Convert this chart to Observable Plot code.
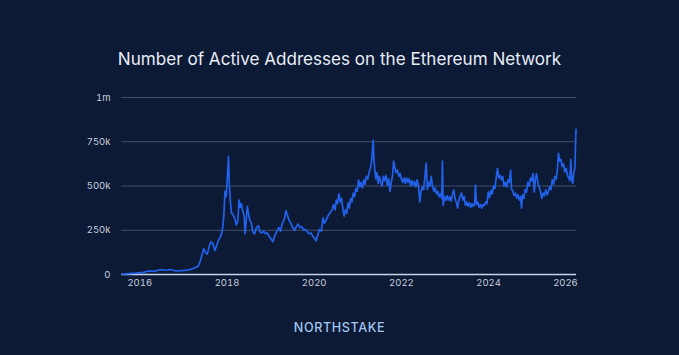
<!DOCTYPE html>
<html>
<head>
<meta charset="utf-8">
<script src="https://cdn.jsdelivr.net/npm/d3@7"></script>
<script src="https://cdn.jsdelivr.net/npm/@observablehq/plot@0.6"></script>
<style>
  html, body { margin: 0; padding: 0; background: #0c1a36; }
  body { width: 679px; height: 355px; overflow: hidden; position: relative; font-family: Inter, "Noto Sans", sans-serif; }
  #title { position: absolute; left: 0; width: 679px; top: 48px; text-align: center; color: #e9edf5; font-size: 17.1px; font-weight: 400; }
  #chart { position: absolute; left: 0; top: 85px; }
  #brand { position: absolute; left: 0; width: 679px; top: 320px; text-align: center; color: #a3c6ee; font-size: 12.6px; font-weight: 500; letter-spacing: 0.6px; }
</style>
</head>
<body>
<div id="title">Number of Active Addresses on the Ethereum Network</div>
<div id="chart"></div>
<div id="brand">NORTHSTAKE</div>
<script>
const dates = [
"2015-08-07","2015-10-01","2015-12-01","2016-02-01","2016-03-15","2016-05-01","2016-06-15","2016-08-01","2016-09-15","2016-11-01",
"2016-12-15","2017-02-01","2017-03-10","2017-04-10","2017-05-01","2017-05-20","2017-06-05","2017-06-20","2017-07-05","2017-07-20",
"2017-08-05","2017-08-20","2017-09-05","2017-09-20","2017-10-05","2017-10-25","2017-11-10","2017-11-25","2017-12-05","2017-12-15",
"2017-12-25","2018-01-05","2018-01-13","2018-01-20","2018-01-28","2018-02-08","2018-02-20","2018-03-05","2018-03-20","2018-04-01",
"2018-04-12","2018-04-22","2018-05-01","2018-05-12","2018-05-25","2018-06-01","2018-06-10","2018-06-20","2018-07-01","2018-07-12",
"2018-07-25","2018-08-05","2018-08-20","2018-09-05","2018-09-20","2018-10-05","2018-10-20","2018-11-05","2018-11-20","2018-12-05",
"2018-12-20","2019-01-05","2019-01-20","2019-02-05","2019-02-20","2019-03-10","2019-03-25","2019-04-10","2019-04-25","2019-05-10",
"2019-05-20","2019-06-05","2019-06-20","2019-07-05","2019-07-20","2019-08-05","2019-08-20","2019-09-05","2019-09-20","2019-10-05",
"2019-10-20","2019-11-05","2019-11-20","2019-12-05","2019-12-20","2020-01-05","2020-01-18","2020-02-01","2020-02-15","2020-03-01",
"2020-03-15","2020-03-28","2020-04-10","2020-04-25","2020-05-10","2020-05-25",
"2020-06-01","2020-06-12","2020-06-24","2020-07-05","2020-07-15","2020-07-26","2020-08-06","2020-08-17","2020-08-28","2020-09-08",
"2020-09-19","2020-09-30","2020-10-11","2020-10-22","2020-11-02","2020-11-13","2020-11-24","2020-12-05","2020-12-16","2020-12-27",
"2021-01-07","2021-01-18","2021-01-29","2021-02-09","2021-02-20","2021-03-03","2021-03-14","2021-03-25","2021-04-05","2021-04-16",
"2021-04-27","2021-05-04","2021-05-10","2021-05-15","2021-05-22","2021-06-01","2021-06-10","2021-06-20","2021-07-01","2021-07-12",
"2021-07-23","2021-08-03","2021-08-14","2021-08-25","2021-09-05","2021-09-16","2021-09-27","2021-10-08","2021-10-19","2021-10-28",
"2021-11-08","2021-11-18","2021-11-29","2021-12-10","2021-12-21","2022-01-01","2022-01-12","2022-01-23","2022-02-03","2022-02-14",
"2022-02-25","2022-03-08","2022-03-19","2022-03-30","2022-04-10","2022-04-21","2022-05-02","2022-05-13","2022-05-24","2022-06-04",
"2022-06-15","2022-06-26","2022-07-07","2022-07-18","2022-07-28","2022-08-06","2022-08-17","2022-08-28","2022-09-08","2022-09-19",
"2022-09-30","2022-10-11","2022-10-22","2022-11-02","2022-11-13","2022-11-24","2022-12-05","2022-12-11","2022-12-17","2022-12-28",
"2023-01-08","2023-01-19","2023-01-30","2023-02-10","2023-02-21","2023-03-04","2023-03-15","2023-03-26","2023-04-06","2023-04-17",
"2023-04-28","2023-05-09","2023-05-20","2023-05-31","2023-06-11","2023-06-22","2023-07-03","2023-07-14","2023-07-25","2023-08-05",
"2023-08-16","2023-08-27","2023-09-07","2023-09-14","2023-09-22","2023-10-03","2023-10-14","2023-10-25","2023-11-05","2023-11-16",
"2023-11-27","2023-12-08","2023-12-19","2023-12-30","2024-01-10","2024-01-21","2024-02-01","2024-02-12","2024-02-23","2024-03-05",
"2024-03-16","2024-03-27","2024-04-07","2024-04-18","2024-04-29","2024-05-10","2024-05-21","2024-06-01","2024-06-12","2024-06-23",
"2024-07-04","2024-07-12","2024-07-23","2024-08-03","2024-08-14","2024-08-25","2024-09-05","2024-09-16","2024-09-27","2024-10-03",
"2024-10-12","2024-10-23","2024-11-03","2024-11-14","2024-11-25","2024-12-06","2024-12-17","2024-12-28","2025-01-08","2025-01-18",
"2025-01-28","2025-02-06","2025-02-17","2025-02-28","2025-03-11","2025-03-22","2025-04-02","2025-04-13","2025-04-24","2025-05-05",
"2025-05-16","2025-05-27","2025-06-07","2025-06-18","2025-06-29","2025-07-10","2025-07-21","2025-08-01","2025-08-09","2025-08-18",
"2025-08-29","2025-09-09","2025-09-20","2025-10-01","2025-10-12","2025-10-23","2025-11-03","2025-11-12","2025-11-20","2025-11-28",
"2025-12-06","2025-12-15","2025-12-24","2026-01-03"
];
const activeAddresses = [
2000,5000,8000,12000,20000,18000,27000,24000,28000,20000,
22000,25000,30000,40000,45000,70000,110000,145000,125000,115000,
160000,185000,175000,135000,160000,200000,215000,260000,330000,470000,
440000,560000,667000,520000,420000,345000,340000,320000,280000,300000,
420000,380000,400000,360000,330000,230000,300000,385000,340000,305000,
290000,240000,230000,265000,275000,240000,235000,245000,230000,235000,
215000,200000,185000,220000,240000,265000,245000,290000,310000,360000,
340000,305000,290000,265000,250000,270000,285000,265000,270000,250000,
255000,240000,230000,235000,215000,205000,190000,225000,255000,245000,
320000,290000,305000,330000,345000,360000,
370000,395000,365000,420000,400000,455000,410000,430000,375000,330000,
365000,345000,405000,375000,430000,410000,460000,440000,485000,470000,
535000,495000,520000,490000,535000,510000,555000,540000,575000,600000,
640000,705000,760000,660000,600000,540000,575000,515000,555000,520000,
500000,555000,530000,560000,505000,540000,470000,520000,560000,640000,
600000,575000,590000,555000,570000,540000,520000,545000,515000,545000,
520000,540000,500000,530000,505000,525000,495000,535000,500000,410000,
470000,495000,480000,560000,630000,480000,520000,500000,555000,495000,
470000,490000,455000,470000,440000,455000,430000,640000,390000,440000,
420000,445000,420000,440000,415000,450000,478000,430000,410000,375000,
420000,445000,460000,420000,440000,390000,410000,385000,405000,380000,
400000,385000,400000,505000,395000,410000,380000,395000,375000,395000,
390000,410000,400000,467000,435000,475000,455000,500000,485000,545000,
600000,545000,560000,535000,555000,500000,520000,495000,535000,520000,
590000,480000,470000,445000,460000,430000,450000,420000,440000,375000,
450000,430000,480000,465000,520000,500000,545000,530000,570000,467000,
540000,570000,520000,495000,470000,430000,460000,445000,478000,450000,
470000,495000,480000,535000,510000,555000,540000,600000,685000,640000,
650000,610000,625000,580000,600000,560000,545000,530000,650000,540000,
515000,570000,600000,820000
];
const yTicks = [0, 250000, 500000, 750000, 1000000];
const yTickLabels = ["0", "250k", "500k", "750k", "1m"];
const xTickYears = ["2016", "2018", "2020", "2022", "2024"];
const xLastTickYear = "2026";
const xDomain = ["2015-08-01", "2026-01-07"];

const parse = d3.utcParse("%Y-%m-%d");
const data = dates.map((d, i) => ({date: parse(d), value: activeAddresses[i]}));
const yearDate = y => new Date(Date.UTC(+y, 0, 1));

const chart = Plot.plot({
  width: 679,
  height: 215,
  marginLeft: 121,
  marginRight: 103,
  marginTop: 12,
  marginBottom: 26,
  style: { background: "transparent", color: "#c9cfdb", fontFamily: "Inter, 'Noto Sans', sans-serif", fontSize: "9.5px" },
  x: { type: "utc", domain: xDomain.map(parse) },
  y: { domain: [0, 1000000] },
  marks: [
    Plot.gridY(yTicks, { stroke: "#434f69", strokeOpacity: 1, strokeWidth: 1 }),
    Plot.axisY(yTicks, { tickSize: 0, tickPadding: 11, tickFormat: (d) => yTickLabels[yTicks.indexOf(d)], label: null }),
    Plot.ruleY([0], { stroke: "#c7d3e6", strokeWidth: 1.6 }),
    Plot.line(data, { x: "date", y: "value", stroke: "#2262ea", strokeWidth: 1.7, curve: "linear" }),
    Plot.axisX(xTickYears.map(yearDate), { tickSize: 0, tickPadding: 5, tickFormat: d3.utcFormat("%Y"), label: null }),
    Plot.axisX([yearDate(xLastTickYear)], { tickSize: 0, tickPadding: 5, tickFormat: d3.utcFormat("%Y"), textAnchor: "end", dx: 2, label: null })
  ]
});
document.getElementById("chart").appendChild(chart);
</script>
</body>
</html>
